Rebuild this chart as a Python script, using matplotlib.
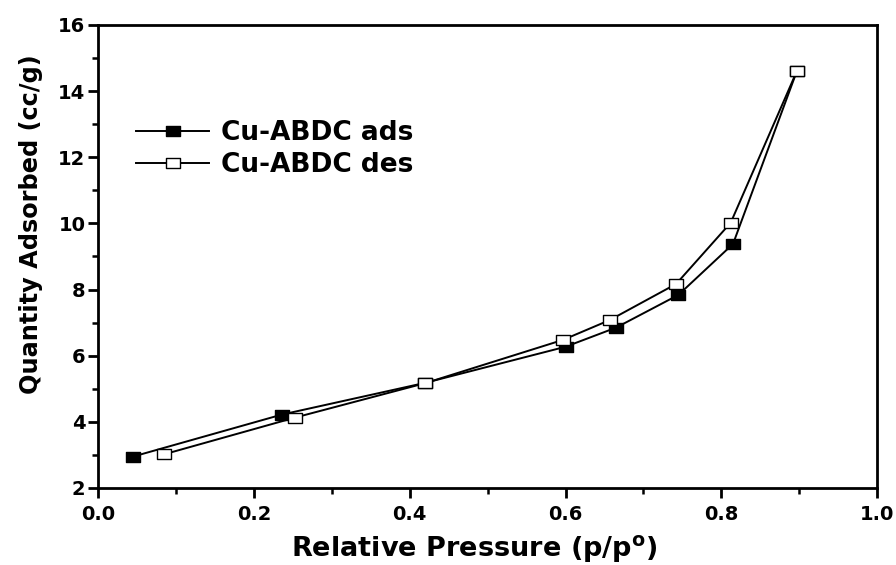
import matplotlib
matplotlib.use("Agg")
import matplotlib.pyplot as plt
from matplotlib.ticker import MultipleLocator, FormatStrFormatter
from matplotlib.path import Path

plt.rcParams['font.family'] = ['DejaVu Sans']
plt.rcParams['font.weight'] = 'bold'
plt.rcParams['mathtext.default'] = 'bf'

ads_x = [0.045, 0.236, 0.420, 0.600, 0.665, 0.745, 0.815, 0.897]
ads_y = [2.95, 4.22, 5.18, 6.27, 6.85, 7.84, 9.38, 14.61]
des_x = [0.897, 0.812, 0.742, 0.657, 0.597, 0.420, 0.253, 0.085]
des_y = [14.61, 10.02, 8.17, 7.08, 6.48, 5.17, 4.13, 3.02]

labels = ['Cu-ABDC ads', 'Cu-ABDC des']

rect = Path([(-1.35, -1), (1.35, -1), (1.35, 1), (-1.35, 1), (-1.35, -1)],
            [Path.MOVETO, Path.LINETO, Path.LINETO, Path.LINETO, Path.CLOSEPOLY])

fig = plt.figure(figsize=(8.96, 5.65), dpi=100)
ax = fig.add_axes([0.1094, 0.1363, 0.8696, 0.8195])

ax.plot(ads_x, ads_y, color='black', lw=1.4, marker=rect, ms=9.5,
        mfc='black', mec='black', mew=1.0, label=labels[0])
ax.plot(des_x, des_y, color='black', lw=1.4, marker=rect, ms=9.5,
        mfc='white', mec='black', mew=1.0, label=labels[1])

ax.set_xlim(0, 1.0)
ax.set_ylim(2, 16)
ax.xaxis.set_major_locator(MultipleLocator(0.2))
ax.xaxis.set_minor_locator(MultipleLocator(0.1))
ax.yaxis.set_major_locator(MultipleLocator(2))
ax.yaxis.set_minor_locator(MultipleLocator(1))
ax.xaxis.set_major_formatter(FormatStrFormatter('%.1f'))

for s in ax.spines.values():
    s.set_linewidth(2.0)
ax.tick_params(which='major', direction='out', length=7, width=2.0,
               labelsize=14, top=False, right=False)
ax.tick_params(axis='x', which='major', pad=5)
ax.tick_params(axis='y', which='major', pad=2)
ax.tick_params(which='minor', direction='out', length=4, width=1.8,
               top=False, right=False)
for lab in ax.get_xticklabels() + ax.get_yticklabels():
    lab.set_fontweight('bold')

ax.set_xlabel('Relative Pressure (p/p$^{\\mathbf{o}}$)', fontsize=19.5, fontweight='bold')
ax.set_ylabel('Quantity Adsorbed (cc/g)', fontsize=17.3, fontweight='bold')
ax.xaxis.set_label_coords(0.483, -0.098)
ax.yaxis.set_label_coords(-0.0706, 0.570)

leg = fig.legend(loc='upper left', bbox_to_anchor=(0.152, 0.788),
                 bbox_transform=fig.transFigure, frameon=False,
                 fontsize=19, handlelength=2.77, handletextpad=0.45,
                 labelspacing=0.25, borderpad=0.0, borderaxespad=0.0)
for t in leg.get_texts():
    t.set_fontweight('bold')

fig.savefig('out.png', dpi=100)
